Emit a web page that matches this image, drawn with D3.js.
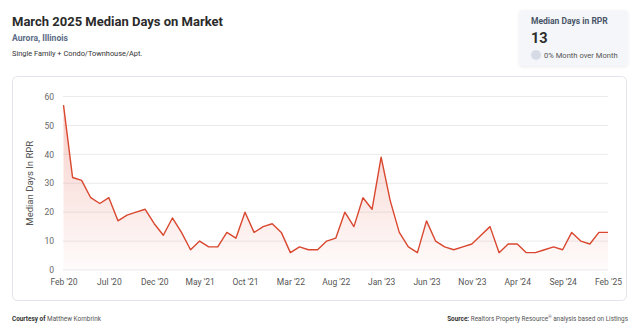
<!DOCTYPE html>
<html><head><meta charset="utf-8">
<script src="https://cdn.jsdelivr.net/npm/d3@7"></script>
<style>
html,body{margin:0;padding:0;background:#fff;}
svg{display:block;font-family:Roboto, "Noto Sans", sans-serif;}
</style></head>
<body><svg id="c" width="640" height="336"></svg>
<script>
const months = ["Feb '20","Mar '20","Apr '20","May '20","Jun '20","Jul '20","Aug '20","Sep '20","Oct '20","Nov '20","Dec '20",
"Jan '21","Feb '21","Mar '21","Apr '21","May '21","Jun '21","Jul '21","Aug '21","Sep '21","Oct '21","Nov '21","Dec '21",
"Jan '22","Feb '22","Mar '22","Apr '22","May '22","Jun '22","Jul '22","Aug '22","Sep '22","Oct '22","Nov '22","Dec '22",
"Jan '23","Feb '23","Mar '23","Apr '23","May '23","Jun '23","Jul '23","Aug '23","Sep '23","Oct '23","Nov '23","Dec '23",
"Jan '24","Feb '24","Mar '24","Apr '24","May '24","Jun '24","Jul '24","Aug '24","Sep '24","Oct '24","Nov '24","Dec '24",
"Jan '25","Feb '25"];
const medianDays = [57,32,31,25,23,25,17,19,20,21,16,12,18,13,7,10,8,8,13,11,20,13,15,16,13,6,8,7,7,10,11,20,15,25,21,39,24,13,8,6,17,10,8,7,8,9,12,15,6,9,9,6,6,7,8,7,13,10,9,13,13];
const xTickLabels = ["Feb '20","Jul '20","Dec '20","May '21","Oct '21","Mar '22","Aug '22","Jan '23","Jun '23","Nov '23","Apr '24","Sep '24","Feb '25"];
const yTicks = [0,10,20,30,40,50,60];

const svg = d3.select("#c");
const defs = svg.append("defs");
const grad = defs.append("linearGradient").attr("id","g").attr("x1",0).attr("y1",0).attr("x2",0).attr("y2",1);
grad.append("stop").attr("offset","0%").attr("stop-color","#e0503a").attr("stop-opacity",0.28);
grad.append("stop").attr("offset","100%").attr("stop-color","#e0503a").attr("stop-opacity",0.02);
const sh = defs.append("filter").attr("id","sh").attr("x","-10%").attr("y","-10%").attr("width","120%").attr("height","130%");
sh.append("feDropShadow").attr("dx",0).attr("dy",1).attr("stdDeviation",1.5).attr("flood-color","#000").attr("flood-opacity",0.08);

// Header
svg.append("text").attr("x",12).attr("y",26).attr("font-size",13).attr("font-weight",700).attr("fill","#2b2b2b").text("March 2025 Median Days on Market");
svg.append("text").attr("x",12).attr("y",41).attr("font-size",8.6).attr("font-weight",700).attr("fill","#5b6b85").text("Aurora, Illinois");
svg.append("text").attr("x",12).attr("y",55.5).attr("font-size",7.4).attr("fill","#333").text("Single Family + Condo/Townhouse/Apt.");

// KPI box
svg.append("rect").attr("x",519).attr("y",10).attr("width",109).attr("height",56).attr("rx",4).attr("fill","#f4f6f9").attr("filter","url(#sh)");
svg.append("text").attr("x",531).attr("y",24).attr("font-size",8.5).attr("font-weight",700).attr("fill","#4a5568").text("Median Days in RPR");
svg.append("text").attr("x",531).attr("y",43).attr("font-size",14.5).attr("font-weight",700).attr("fill","#2b2b2b").text("13");
svg.append("circle").attr("cx",536).attr("cy",55).attr("r",5).attr("fill","#d6dbe6");
svg.append("text").attr("x",544).attr("y",57.5).attr("font-size",7.6).attr("fill","#555").text("0% Month over Month");

// Chart box
svg.append("rect").attr("x",12.5).attr("y",76.5).attr("width",614).attr("height",224).attr("rx",5).attr("fill","#fff").attr("stroke","#e1e5ea");

const x = d3.scalePoint().domain(months).range([63.5,608]);
const y = d3.scaleLinear().domain([0,60]).range([270,96.5]);

// grid
svg.append("g").selectAll("line").data(yTicks).join("line")
  .attr("x1",63).attr("x2",608).attr("y1",d=>y(d)).attr("y2",d=>y(d))
  .attr("stroke","#ebebeb").attr("stroke-width",1);

const yAxis = svg.append("g").attr("transform","translate(63,0)")
  .call(d3.axisLeft(y).tickValues(yTicks).tickSize(0).tickPadding(9));
yAxis.select(".domain").remove();
yAxis.selectAll("text").attr("font-size",8.5).attr("fill","#666").attr("font-family","Roboto, sans-serif");

const xAxis = svg.append("g").attr("transform","translate(0,270)")
  .call(d3.axisBottom(x).tickValues(xTickLabels).tickSize(0).tickPadding(9));
xAxis.select(".domain").remove();
xAxis.selectAll("text").attr("font-size",8.5).attr("fill","#555").attr("font-family","Roboto, sans-serif");

svg.append("text").attr("transform","translate(33,"+y(30)+") rotate(-90)").attr("text-anchor","middle")
  .attr("font-size",9.5).attr("fill","#555").text("Median Days In RPR");

const area = d3.area().x((d,i)=>x(months[i])).y0(y(0)).y1(d=>y(d));
const line = d3.line().x((d,i)=>x(months[i])).y(d=>y(d));
svg.append("path").datum(medianDays).attr("d",area).attr("fill","url(#g)");
svg.append("path").datum(medianDays).attr("d",line).attr("fill","none").attr("stroke","#d9472f").attr("stroke-width",1.4).attr("stroke-linejoin","round");

// Footer
const f1 = svg.append("text").attr("x",12).attr("y",321).attr("font-size",6.4).attr("fill","#333");
f1.append("tspan").attr("font-weight",700).text("Courtesy of ");
f1.append("tspan").attr("fill","#555").text("Matthew Kornbrink");
const f2 = svg.append("text").attr("x",628).attr("y",321).attr("font-size",6.4).attr("fill","#333").attr("text-anchor","end");
f2.append("tspan").attr("font-weight",700).text("Source: ");
f2.append("tspan").attr("fill","#555").text("Realtors Property Resource");
f2.append("tspan").attr("fill","#555").attr("font-size",4.2).attr("dy",-3).text("®");
f2.append("tspan").attr("fill","#555").attr("dy",3).text(" analysis based on Listings");
</script></body></html>
